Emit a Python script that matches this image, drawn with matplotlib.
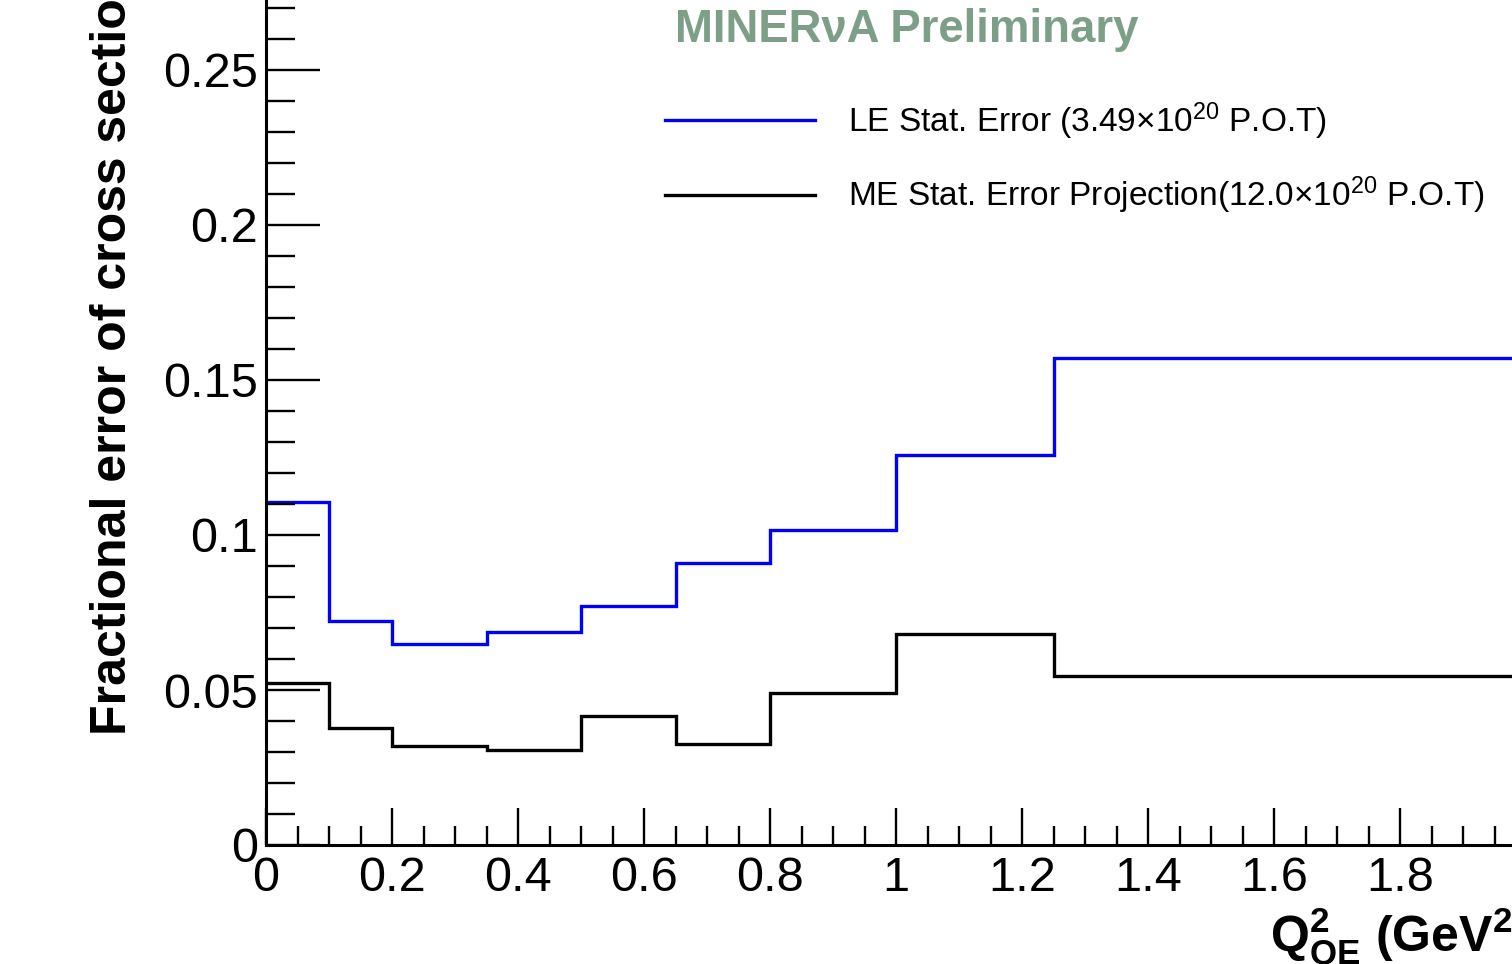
import matplotlib
matplotlib.use("Agg")
from matplotlib import pyplot as plt
from matplotlib.ticker import MultipleLocator

# bin edges in Q2_QE (GeV^2)
edges = [0, 0.1, 0.2, 0.35, 0.5, 0.65, 0.8, 1.0, 1.25, 2.0]
# fractional stat error per bin
le_err = [0.1106, 0.0723, 0.0648, 0.0687, 0.0771, 0.0910, 0.1016, 0.1258, 0.1571]
me_err = [0.0523, 0.0377, 0.0319, 0.0306, 0.0416, 0.0326, 0.0490, 0.0681, 0.0545]
le_label = r"LE Stat. Error (3.49$\times$10$^{20}$ P.O.T)"
me_label = r"ME Stat. Error Projection(12.0$\times$10$^{20}$ P.O.T)"

plt.rcParams['font.family'] = ['Liberation Sans', 'DejaVu Sans']
plt.rcParams['mathtext.fontset'] = 'custom'
plt.rcParams['mathtext.rm'] = 'Liberation Sans'
plt.rcParams['mathtext.it'] = 'Liberation Sans:italic'
plt.rcParams['mathtext.bf'] = 'Liberation Sans:bold'

W, H = 1512, 964
fig = plt.figure(figsize=(W / 100, H / 100), dpi=100)
# axes run past the top and right edge of the picture (cropped plot)
ax = fig.add_axes([266 / W, (H - 845) / H, 1260 / W, 930 / H])

ax.stairs(le_err, edges, baseline=None, color='#0000ff', lw=2.4, label=le_label)
ax.stairs(me_err, edges, baseline=None, color='black', lw=2.4, label=me_label)

ax.set_xlim(0, 2.0)
ax.set_ylim(0, 0.3)
ax.xaxis.set_major_locator(MultipleLocator(0.2))
ax.xaxis.set_minor_locator(MultipleLocator(0.05))
ax.yaxis.set_major_locator(MultipleLocator(0.05))
ax.yaxis.set_minor_locator(MultipleLocator(0.01))
ax.xaxis.set_major_formatter(plt.FuncFormatter(lambda v, p: f"{v:g}"))
ax.yaxis.set_major_formatter(plt.FuncFormatter(lambda v, p: f"{v:g}"))

for s in ['top', 'right']:
    ax.spines[s].set_visible(False)
for s in ['left', 'bottom']:
    ax.spines[s].set_linewidth(2.2)

ax.tick_params(which='both', direction='in', width=1.7, labelsize=35, colors='black')
ax.tick_params(axis='y', which='major', length=39, pad=6)
ax.tick_params(axis='y', which='minor', length=21)
ax.tick_params(axis='x', which='major', length=27, pad=8)
ax.tick_params(axis='x', which='minor', length=14)

fig.text(675 / W, 1 - 42 / H, "MINERνA Preliminary", color='#7d9f87',
         fontsize=32.8, fontweight='bold', va='baseline', ha='left')

fig.text(113 / W, (H - 735) / H, "Fractional error of cross section",
         rotation=90, fontsize=36, fontweight='bold', ha='center', va='bottom')

fig.text(1270 / W, (H - 951) / H,
         r"$\mathbf{Q^{2}_{QE}}$ (GeV$^{\mathbf{2}}$)",
         fontsize=36, fontweight='bold', ha='left', va='baseline')

ax.legend(loc='upper left', bbox_to_anchor=(665 / W, 1 - 100 / H),
          bbox_transform=fig.transFigure, frameon=False, fontsize=24,
          handlelength=4.5, handletextpad=1.0, labelspacing=1.0,
          borderpad=0, borderaxespad=0)

fig.savefig("out.png", dpi=100)
